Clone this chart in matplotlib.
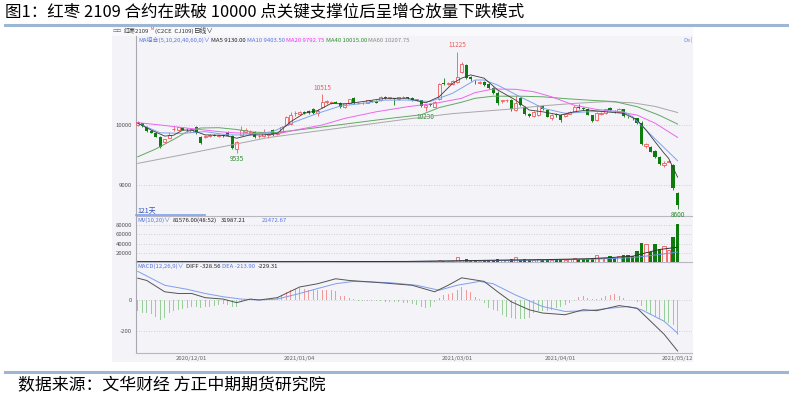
import matplotlib
matplotlib.use('Agg')
import matplotlib.pyplot as plt
from matplotlib.patches import Rectangle
from matplotlib.lines import Line2D
import numpy as np

plt.rcParams['font.family'] = ['Noto Sans CJK SC', 'DejaVu Sans']

W, H = 789, 396

title = '图1：红枣 2109 合约在跌破 10000 点关键支撑位后呈增仓放量下跌模式'
source = '数据来源：文华财经 方正中期期货研究院'

# daily candles, 2020/11 - 2021/05/12 (121 bars)
opens = [
    10000, 10030, 9975, 9900, 9860, 9800, 9720, 9790, 9935, 9925,
    9950, 9925, 9890, 9970, 9795, 9800, 9815, 9830, 9820, 9830,
    9880, 9815, 9600, 9835, 9880, 9850, 9890, 9810, 9810, 9830,
    9915, 9850, 9890, 10000, 10015, 10200, 10190, 10210, 10240, 10260,
    10205, 10295, 10390, 10370, 10380, 10370, 10300, 10360, 10445, 10370,
    10365, 10370, 10400, 10400, 10415, 10470, 10450, 10450, 10430, 10465,
    10465, 10445, 10420, 10415, 10300, 10350, 10305, 10430, 10700, 10690,
    10680, 10720, 10890, 11000, 10800, 10720, 10700, 10720, 10680, 10610,
    10540, 10400, 10410, 10415, 10250, 10445, 10305, 10190, 10155, 10165,
    10320, 10250, 10110, 10180, 10165, 10150, 10190, 10220, 10300, 10280,
    10275, 10165, 10085, 10190, 10195, 10290, 10225, 10220, 10260, 10140,
    10125, 10110, 10040, 9645, 9640, 9560, 9470, 9330, 9390, 9335, 8860]
highs = [
    10060, 10040, 9985, 9920, 9870, 9810, 9770, 9880, 9985, 9970,
    9965, 9945, 9940, 9990, 9810, 9830, 9845, 9850, 9845, 9850,
    9895, 9830, 9735, 9990, 9945, 9910, 9900, 9830, 9940, 9860,
    9930, 9870, 9985, 10150, 10220, 10240, 10240, 10230, 10250, 10280,
    10260, 10515, 10420, 10400, 10400, 10385, 10370, 10440, 10460, 10390,
    10380, 10425, 10420, 10410, 10480, 10480, 10470, 10455, 10475, 10480,
    10475, 10460, 10440, 10420, 10340, 10370, 10400, 10700, 10780, 10720,
    10750, 11225, 11050, 11020, 10820, 10750, 10740, 10730, 10700, 10630,
    10560, 10420, 10430, 10430, 10500, 10460, 10320, 10200, 10240, 10330,
    10330, 10260, 10190, 10200, 10190, 10200, 10240, 10330, 10350, 10300,
    10290, 10175, 10210, 10210, 10275, 10305, 10250, 10290, 10270, 10150,
    10140, 10120, 10060, 9700, 9650, 9580, 9480, 9400, 9410, 9350, 8880]
lows = [
    9990, 9975, 9890, 9860, 9795, 9620, 9700, 9780, 9905, 9910,
    9910, 9890, 9880, 9850, 9690, 9785, 9800, 9810, 9805, 9805,
    9810, 9600, 9535, 9820, 9860, 9840, 9785, 9790, 9800, 9790,
    9825, 9830, 9880, 9990, 10000, 10150, 10180, 10190, 10190, 10180,
    10150, 10280, 10350, 10350, 10360, 10280, 10290, 10350, 10350, 10350,
    10345, 10360, 10380, 10370, 10405, 10440, 10440, 10335, 10420, 10450,
    10440, 10400, 10400, 10300, 10230, 10320, 10295, 10420, 10660, 10670,
    10670, 10700, 10860, 10760, 10740, 10690, 10680, 10650, 10600, 10520,
    10330, 10370, 10390, 10240, 10240, 10320, 10170, 10140, 10140, 10150,
    10250, 10130, 10090, 10140, 10055, 10140, 10180, 10210, 10270, 10250,
    10160, 10050, 10070, 10175, 10190, 10230, 10200, 10210, 10140, 10110,
    10090, 10020, 9660, 9620, 9545, 9450, 9330, 9300, 9380, 8920, 8600]
closes = [
    10050, 9985, 9900, 9870, 9805, 9640, 9760, 9835, 9940, 9960,
    9925, 9910, 9930, 9860, 9705, 9815, 9840, 9825, 9830, 9815,
    9820, 9610, 9720, 9915, 9925, 9890, 9795, 9815, 9890, 9845,
    9835, 9860, 9970, 10140, 10165, 10205, 10225, 10205, 10200, 10195,
    10240, 10390, 10395, 10380, 10375, 10295, 10360, 10430, 10360, 10375,
    10360, 10415, 10390, 10375, 10470, 10445, 10460, 10430, 10465, 10470,
    10450, 10410, 10430, 10315, 10340, 10335, 10390, 10685, 10690, 10700,
    10740, 10805, 11015, 10780, 10770, 10715, 10710, 10665, 10615, 10530,
    10370, 10415, 10410, 10260, 10360, 10335, 10180, 10150, 10225, 10315,
    10265, 10140, 10170, 10165, 10085, 10190, 10220, 10305, 10290, 10275,
    10170, 10070, 10195, 10195, 10265, 10245, 10215, 10275, 10150, 10135,
    10110, 10030, 9685, 9680, 9555, 9470, 9350, 9370, 9395, 8945, 8665]
volumes = [
    900, 700, 1100, 600, 800, 1300, 500, 700, 400, 900,
    500, 600, 700, 1000, 1200, 600, 500, 400, 500, 600,
    800, 1500, 1300, 900, 600, 700, 800, 500, 1400, 600,
    700, 500, 1300, 1800, 1500, 900, 700, 800, 1200, 1400,
    1000, 2200, 1300, 800, 900, 1500, 1000, 1300, 1800, 700,
    800, 1200, 900, 1000, 1700, 1100, 900, 1500, 1200, 1000,
    1200, 2000, 1300, 1800, 1500, 1200, 2200, 3500, 2500, 2200,
    2600, 11000, 4500, 6000, 3000, 3500, 3000, 4000, 4500, 5000,
    6500, 4500, 4000, 5500, 11000, 5000, 5500, 4500, 4000, 6500,
    4500, 5000, 4500, 4000, 6000, 4500, 6500, 9000, 5500, 6000,
    7000, 7500, 16000, 9500, 8000, 13000, 9000, 12000, 14500, 14500,
    13000, 23000, 42000, 40000, 22000, 38500, 29000, 35000, 27000, 53000, 81576]

# moving averages read at sample bars
ma5_idx = [0, 3, 6, 8, 10, 12, 15, 18, 20, 22, 25, 28, 31, 34, 37, 40, 43, 46, 50, 55, 60,
           64, 67, 70, 72, 74, 77, 80, 84, 87, 90, 94, 97, 100, 104, 108, 111, 113, 115, 117, 118, 120]
ma5_val = [10030, 9915, 9815, 9830, 9915, 9915, 9835, 9830, 9815, 9780, 9835, 9835, 9860, 10055,
           10195, 10240, 10360, 10350, 10390, 10445, 10445, 10370, 10470, 10695, 10780, 10835,
           10780, 10585, 10415, 10250, 10220, 10165, 10220, 10250, 10220, 10195, 10085, 9915,
           9720, 9530, 9445, 9130]
ma10_idx = [0, 5, 10, 15, 20, 25, 30, 35, 40, 45, 50, 55, 60, 65, 70, 75, 77, 80, 85, 88, 90,
            95, 100, 105, 108, 110, 113, 116, 120]
ma10_val = [10030, 9870, 9860, 9890, 9835, 9835, 9890, 10055, 10195, 10315, 10360, 10415,
            10415, 10390, 10530, 10750, 10750, 10665, 10470, 10360, 10280, 10195, 10220,
            10235, 10220, 10140, 9915, 9695, 9404]
ma20_idx = [0, 5, 12, 20, 25, 31, 35, 41, 46, 53, 60, 66, 72, 75, 79, 84, 88, 92, 97, 102,
            107, 111, 115, 120]
ma20_val = [10040, 10000, 9940, 9875, 9860, 9850, 9915, 10000, 10110, 10220, 10305, 10360,
            10445, 10540, 10600, 10595, 10555, 10470, 10330, 10260, 10220, 10165, 10030, 9793]
ma40_idx = [0, 4, 8, 11, 14, 18, 22, 26, 30, 36, 46, 56, 63, 67, 72, 75, 79, 85, 90, 95, 100,
            106, 111, 116, 120]
ma40_val = [9470, 9600, 9760, 9890, 9950, 9955, 9925, 9880, 9870, 9920, 10015, 10110, 10170,
            10290, 10380, 10445, 10480, 10480, 10470, 10440, 10415, 10390, 10305, 10160, 10015]
ma60_idx = [0, 10, 20, 29, 40, 50, 60, 70, 82, 90, 97, 104, 110, 115, 120]
ma60_val = [9360, 9505, 9655, 9790, 9900, 10000, 10100, 10190, 10260, 10320, 10360, 10390,
            10370, 10310, 10208]

mv10_idx = [0, 20, 40, 60, 70, 80, 90, 100, 105, 110, 113, 116, 120]
mv10_val = [800, 800, 900, 1200, 2500, 4000, 5000, 7000, 9500, 12500, 20000, 27000, 31987]
mv20_idx = [0, 40, 60, 70, 80, 90, 100, 105, 110, 115, 120]
mv20_val = [800, 900, 1100, 1800, 3200, 4500, 6000, 7500, 9500, 15000, 21473]

# MACD(12,26,9)
diff_idx = [0, 2, 6, 9, 12, 15, 19, 22, 25, 27, 31, 36, 40, 44, 47, 52, 61, 66, 69, 72, 77,
            80, 83, 87, 90, 95, 99, 102, 107, 111, 114, 117, 120]
diff_val = [141, 126, 53, 42, 42, 15, 6, -17, 6, 0, 15, 84, 105, 137, 126, 116, 95, 53, 95,
            143, 120, 53, -11, -63, -84, -95, -63, -69, -36, -53, -137, -221, -329]
dea_idx = [0, 6, 11, 15, 19, 23, 27, 31, 36, 40, 44, 48, 56, 62, 67, 71, 76, 79, 84, 90, 95,
           100, 105, 109, 112, 117, 120]
dea_val = [185, 95, 69, 42, 21, 6, 0, 6, 42, 74, 105, 120, 112, 95, 63, 95, 120, 105, 32,
           -42, -74, -69, -53, -42, -63, -137, -214]
macd_hist = [
    -74, -84, -86, -90, -110, -126, -116, -84, -74, -63,
    -58, -53, -42, -48, -53, -48, -42, -36, -32, -27,
    -35, -42, -48, -10, -3, 2, -2, 2, 3, 4,
    5, 10, 32, 53, 63, 74, 78, 69, 67, 63,
    65, 67, 63, 63, 57, 27, 27, 15, 6, -4,
    -6, -6, -7, -8, -9, -10, -11, -13, -15, -17,
    -21, -25, -32, -48, -53, -42, -10, 15, 32, 38,
    42, 63, 84, 63, 53, 21, 6, -21, -53, -65,
    -74, -95, -112, -116, -122, -122, -122, -116, -84, -74,
    -72, -68, -63, -53, -42, -32, -20, -8, 21, 27,
    15, 5, 4, 10, 25, 32, 38, 25, 10, 3,
    -3, -10, -40, -70, -95, -110, -125, -140, -150, -160, -229]

date_pos = [12, 36, 71, 94, 120]
date_labels = ['2020/12/01', '2021/01/04', '2021/03/01', '2021/04/01', '2021/05/12']

BG = '#f3f3f8'
RED = '#f05a5a'
GREEN = '#0c7c0c'
SMALL = 4.3

fig = plt.figure(figsize=(W / 100, H / 100), dpi=100)


def px_ax(top, bottom):
    return fig.add_axes([136 / W, 1 - bottom / H, (692 - 136) / W, (bottom - top) / H])


def ftext(x, y, s, **kw):
    kw.setdefault('va', 'center')
    kw.setdefault('ha', 'left')
    fig.text(x / W, 1 - y / H, s, **kw)


def style(ax, ticks, labels):
    ax.set_facecolor('none')
    ax.set_xlim(-0.38, 123.2)
    ax.spines['top'].set_visible(False)
    ax.spines['right'].set_visible(False)
    ax.spines['left'].set_color('#a8a8b0')
    ax.spines['bottom'].set_color('#b8b8c0')
    ax.spines['left'].set_linewidth(0.8)
    ax.spines['bottom'].set_linewidth(0.8)
    ax.set_yticks(ticks, labels)
    ax.tick_params(axis='y', length=0, labelsize=SMALL, labelcolor='#555555', pad=3)
    ax.tick_params(axis='x', length=0, labelbottom=False)
    ax.grid(axis='y', linestyle=(0, (1, 2)), color='#c4c4c8', lw=0.6)
    ax.set_axisbelow(True)


# page frame
fig.add_artist(Rectangle((112 / W, 1 - 362 / H), 581 / W, 335 / H, transform=fig.transFigure,
                         facecolor=BG, edgecolor='none', zorder=-10))
fig.add_artist(Rectangle((112 / W, 1 - 36 / H), 581 / W, 9 / H, transform=fig.transFigure,
                         facecolor='#f9f9fc', edgecolor='none', zorder=-9))
for yy in (25, 372):
    fig.add_artist(Line2D([5 / W, 1], [1 - yy / H] * 2, color='#9db6d4', lw=2.2))
ftext(5, 12, title, fontsize=11.9, color='black')
ftext(18, 385, source, fontsize=12.2, color='black')

x = np.arange(len(closes))
o = np.array(opens)
h = np.array(highs)
l = np.array(lows)
c = np.array(closes)
v = np.array(volumes)
up = c >= o
dn = ~up

# price panel
ax1 = px_ax(36, 216)
style(ax1, [10000, 9000], ['10000', '9000'])
ax1.set_ylim(10000 - (216 - 125) / 0.06, 10000 + (125 - 36) / 0.06)
ax1.vlines(x[up], l[up], h[up], color=RED, lw=0.6, zorder=2)
ax1.vlines(x[dn], l[dn], h[dn], color=GREEN, lw=0.6, zorder=2)
ax1.bar(x[up], np.maximum(c - o, 4)[up], bottom=o[up], width=0.72,
        facecolor=BG, edgecolor=RED, lw=0.6, zorder=3)
ax1.bar(x[dn], np.maximum(o - c, 4)[dn], bottom=c[dn], width=0.72,
        color=GREEN, lw=0, zorder=3)
ax1.plot(ma60_idx, ma60_val, color='#a8a8a8', lw=0.7, zorder=4)
ax1.plot(ma40_idx, ma40_val, color='#62a862', lw=0.7, zorder=4)
ax1.plot(ma20_idx, ma20_val, color='#ee66ee', lw=0.7, zorder=4)
ax1.plot(ma10_idx, ma10_val, color='#7fa4ee', lw=0.7, zorder=4)
ax1.plot(ma5_idx, ma5_val, color='#3a3a3a', lw=0.6, zorder=5)
for i, above in [(71, True), (41, True), (22, False), (64, False), (120, False)]:
    if above:
        ax1.annotate(str(highs[i]), (i, highs[i]), xytext=(0, 1.5), textcoords='offset points',
                     ha='center', va='bottom', fontsize=SMALL + 0.3, color=RED)
    else:
        ax1.annotate(str(lows[i]), (i, lows[i]), xytext=(0, -1.5), textcoords='offset points',
                     ha='center', va='top', fontsize=SMALL + 0.3, color='#2e8b2e')

# volume panel
ax2 = px_ax(216, 262)
style(ax2, [80000, 60000, 40000, 20000], ['80000', '60000', '40000', '20000'])
ax2.set_ylim(0, (262 - 216) / 0.4625 * 1000)
ax2.bar(x[up], v[up], width=0.72, facecolor=BG, edgecolor=RED, lw=0.6, zorder=3)
ax2.bar(x[dn], v[dn], width=0.72, color=GREEN, lw=0, zorder=3)
ax2.plot(mv20_idx, mv20_val, color='#6f8fe0', lw=0.7, zorder=4)
ax2.plot(mv10_idx, mv10_val, color='#333333', lw=0.7, zorder=4)

# MACD panel
ax3 = px_ax(262, 353)
style(ax3, [0, -200], ['0', '-200'])
ax3.set_ylim(-(353 - 300) / 0.155, (300 - 262) / 0.155)
hist = np.array(macd_hist)
ax3.bar(x, hist, width=0.18, color=np.where(hist >= 0, '#f29a9a', '#98cf98'), lw=0, zorder=2)
ax3.plot(dea_idx, dea_val, color='#7f9fec', lw=0.7, zorder=3)
ax3.plot(diff_idx, diff_val, color='#555555', lw=0.7, zorder=4)
ax3.set_xticks(date_pos, date_labels)
ax3.tick_params(axis='x', labelbottom=True, labelsize=SMALL, labelcolor='#666666', pad=2)

# header strip and indicator legends
ftext(113, 31, '▭▭', fontsize=3.5, color='#555555')
ftext(124, 31, '红枣2109', fontsize=SMALL, color='#333333')
ftext(151, 29.5, 'M', fontsize=2.8, color='#e03030')
ftext(155, 31, '(C2CE  CJ109)', fontsize=SMALL, color='#333333')
ftext(194, 31, '日线∨', fontsize=SMALL + 0.5, color='#333333')

legend_y = 40
ftext(138, legend_y, 'MA组合(5,10,20,40,60,0)∨', fontsize=SMALL, color='#5577dd')
ftext(211, legend_y, 'MA5 9130.00', fontsize=SMALL, color='#222222')
ftext(247, legend_y, 'MA10 9403.50', fontsize=SMALL, color='#5577dd')
ftext(286, legend_y, 'MA20 9792.75', fontsize=SMALL, color='#ee33ee')
ftext(326, legend_y, 'MA40 10015.00', fontsize=SMALL, color='#2e8b2e')
ftext(368, legend_y, 'MA60 10207.75', fontsize=SMALL, color='#888888')
ftext(683, legend_y, 'De|', fontsize=SMALL, color='#6f8fe0')

ftext(137, 211, '121天', fontsize=SMALL + 0.8, color='#3355bb')
fig.add_artist(Line2D([136 / W, 205 / W], [1 - 215 / H] * 2, color='#7f9fe8', lw=1.2))
ftext(137, 220, 'MV(10,20)∨', fontsize=SMALL, color='#5577dd')
ftext(173, 220, '81576.00(48:52)', fontsize=SMALL, color='#222222')
ftext(221, 220, '31987.21', fontsize=SMALL, color='#222222')
ftext(262, 220, '21472.67', fontsize=SMALL, color='#5577dd')

ftext(137, 266, 'MACD(12,26,9)∨', fontsize=SMALL, color='#5577dd')
ftext(186, 266, 'DIFF -328.56', fontsize=SMALL, color='#222222')
ftext(222, 266, 'DEA -213.90', fontsize=SMALL, color='#5577dd')
ftext(258, 266, '-229.31', fontsize=SMALL, color='#222222')

fig.savefig('out.png', dpi=100)
